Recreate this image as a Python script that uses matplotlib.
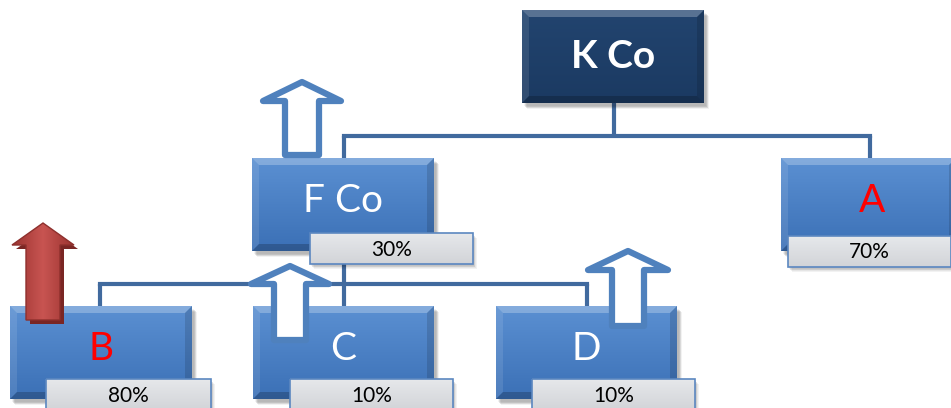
import numpy as np
import matplotlib.pyplot as plt
from matplotlib.patches import Polygon, Rectangle
from matplotlib.colors import LinearSegmentedColormap

# org chart data
names = ['K Co', 'F Co', 'A', 'B', 'C', 'D']
shares = ['', '30%', '70%', '80%', '10%', '10%']
name_colors = ['white', 'white', 'red', 'red', 'white', 'white']
parents = [None, 'K Co', 'K Co', 'F Co', 'F Co', 'F Co']
arrow_nodes = ['F Co', 'B', 'C', 'D']
arrow_kinds = ['hollow', 'solid', 'hollow', 'hollow']

# layout (pixels, y down)
box = {'K Co': (522, 10, 182, 93), 'F Co': (252, 158, 182, 93),
       'A': (781, 158, 175, 93), 'B': (10, 306, 182, 93),
       'C': (253, 306, 181, 93), 'D': (496, 306, 181, 93)}
lab = {'F Co': (310, 233, 163, 31), 'A': (788, 236, 163, 31),
       'B': (46, 379, 165, 31), 'C': (290, 379, 163, 31),
       'D': (532, 379, 163, 31)}
conn_x = {'K Co': 614, 'F Co': 344, 'A': 870, 'B': 100, 'C': 344, 'D': 587}
bus_y = {'K Co': 136, 'F Co': 284}
# arrow: centre x, tip y, head base y, bottom y, head half width, shaft half width
arr = {'F Co': (302, 82, 101, 155, 39, 17), 'B': (43, 223, 245, 320, 31, 17),
       'C': (290, 266, 284, 340, 39, 16), 'D': (628, 251, 270, 326, 40, 16)}

fig = plt.figure(figsize=(9.51, 4.08), dpi=100)
ax = fig.add_axes([0, 0, 1, 1])
ax.set_xlim(0, 951)
ax.set_ylim(408, 0)
ax.axis('off')


def gradient(x, y, w, h, c1, c2, z, clip=None):
    cmap = LinearSegmentedColormap.from_list('g', [c1, c2])
    g = np.linspace(0, 1, 64).reshape(-1, 1)
    im = ax.imshow(g, cmap=cmap, extent=(x, x + w, y + h, y), origin='upper',
                   aspect='auto', zorder=z, interpolation='bilinear')
    if clip is not None:
        im.set_clip_path(clip)
    return im


def draw_box(name, top, bot, z):
    x, y, w, h = box[name]
    for i in range(6):
        ax.add_patch(Rectangle((x + 2 + i * 0.6, y + 3 + i * 0.6), w, h, color='black',
                               alpha=0.05, lw=0, zorder=z - 0.5))
    gradient(x, y, w, h, top, bot, z)
    b = 7
    ax.add_patch(Polygon([(x, y), (x + w, y), (x + w - b, y + b), (x + b, y + b)],
                         color='white', alpha=0.25, lw=0, zorder=z + 0.1))
    ax.add_patch(Polygon([(x, y), (x + b, y + b), (x + b, y + h - b), (x, y + h)],
                         color='white', alpha=0.10, lw=0, zorder=z + 0.1))
    ax.add_patch(Polygon([(x, y + h), (x + b, y + h - b), (x + w - b, y + h - b), (x + w, y + h)],
                         color='black', alpha=0.20, lw=0, zorder=z + 0.1))
    ax.add_patch(Polygon([(x + w, y), (x + w, y + h), (x + w - b, y + h - b), (x + w - b, y + b)],
                         color='black', alpha=0.13, lw=0, zorder=z + 0.1))


def draw_label(name, text, z):
    x, y, w, h = lab[name]
    for i in range(5):
        ax.add_patch(Rectangle((x + 1 + i * 0.7, y + 2 + i * 0.7), w, h, color='black',
                               alpha=0.05, lw=0, zorder=z - 0.5))
    gradient(x, y, w, h, '#e6e8eb', '#d2d4d8', z)
    ax.add_patch(Rectangle((x, y), w, h, fill=False, ec='#5b87c0', lw=1.2, zorder=z + 0.1))
    ax.text(x + w / 2, y + h / 2 + 1, text, ha='center', va='center', fontsize=15,
            family='Lato', color='black', zorder=z + 0.2)


def arrow_pts(cx, tip, hb, bot, hw, sw):
    return [(cx, tip), (cx + hw, hb), (cx + sw, hb), (cx + sw, bot),
            (cx - sw, bot), (cx - sw, hb), (cx - hw, hb)]


# connectors
line_c = '#416a9e'
for p in ['K Co', 'F Co']:
    kids = [n for n, q in zip(names, parents) if q == p]
    xs = [conn_x[k] for k in kids]
    py = box[p][1] + box[p][3]
    ax.plot([conn_x[p], conn_x[p]], [py, bus_y[p]], color=line_c, lw=3, zorder=1,
            solid_capstyle='butt')
    ax.plot([min(xs), max(xs)], [bus_y[p], bus_y[p]], color=line_c, lw=3, zorder=1,
            solid_joinstyle='miter', solid_capstyle='projecting')
    for k in kids:
        ax.plot([conn_x[k], conn_x[k]], [bus_y[p], box[k][1]], color=line_c, lw=3,
                zorder=1, solid_capstyle='butt')

# boxes
for i, n in enumerate(names):
    if n == 'K Co':
        draw_box(n, '#22446f', '#1b3a62', 3)
    else:
        draw_box(n, '#5b90d2', '#3b70b6', 3)
    x, y, w, h = box[n]
    ty = y + h / 2 - (0 if n == 'K Co' else 4)
    if n == 'A':
        x, w = 781, 182
    ax.text(x + w / 2, ty, n, ha='center', va='center', fontsize=28,
            fontweight='bold' if n == 'K Co' else 'normal', family='Lato',
            color=name_colors[i], zorder=4)

# arrows
for n, kind in zip(arrow_nodes, arrow_kinds):
    pts = arrow_pts(*arr[n])
    if kind == 'hollow':
        ax.add_patch(Polygon(pts, closed=True, fc='white', ec='#4f81bd', lw=4.5,
                             joinstyle='round', zorder=5))
    else:
        sh = [(px + 4, py + 4) for px, py in pts]
        ax.add_patch(Polygon(sh, closed=True, fc='#7a2624', ec='none', zorder=5))
        poly = Polygon(pts, closed=True, fc='none', ec='#8e302d', lw=1, zorder=5.2)
        ax.add_patch(poly)
        xs = [p[0] for p in pts]
        ys = [p[1] for p in pts]
        cmap = LinearSegmentedColormap.from_list('r', ['#9b3431', '#c85451', '#9b3431'])
        g = np.linspace(0, 1, 64).reshape(1, -1)
        im = ax.imshow(g, cmap=cmap, extent=(min(xs), max(xs), max(ys), min(ys)),
                       aspect='auto', zorder=5.1, interpolation='bilinear')
        clip = Polygon(pts, closed=True, transform=ax.transData)
        im.set_clip_path(clip)

# share labels
for n, s in zip(names, shares):
    if s:
        draw_label(n, s, 6)

fig.savefig('out.png', dpi=100)
